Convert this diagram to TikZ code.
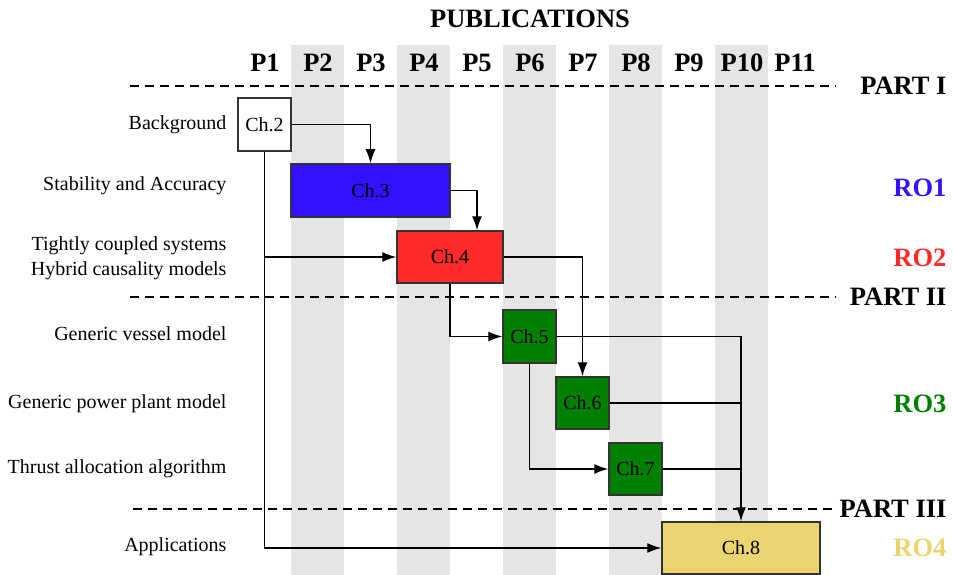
\documentclass[tikz,border=0pt]{standalone}
\usepackage{fontspec}
\setmainfont{Liberation Serif}
\usetikzlibrary{arrows.meta, positioning}

\definecolor{roblue}{HTML}{3311FF}
\definecolor{rored}{HTML}{FF2A2A}
\definecolor{rogreen}{HTML}{008000}
\definecolor{royellow}{HTML}{E9D46F}
\definecolor{bandgray}{HTML}{E5E5E5}
\definecolor{edgegray}{HTML}{333333}

\tikzset{
  chbox/.style={draw=edgegray, line width=1.5pt, inner sep=0pt, font=\fontsize{20}{23}\selectfont},
  topic/.style={anchor=east, font=\fontsize{20}{23}\selectfont},
  head/.style={font=\fontsize{26.5}{29}\selectfont\bfseries},
  part/.style={anchor=east, font=\fontsize{26.5}{29}\selectfont\bfseries},
  sep/.style={line width=1.7pt, dash pattern=on 9pt off 6pt},
  link/.style={line width=1.3pt},
  flow/.style={line width=1.3pt, -{Latex[length=14pt, width=10pt]}}
}

\begin{document}
\begin{tikzpicture}[x=1pt, y=-1pt]
  \useasboundingbox (0,0) rectangle (953,575);

  % publication columns
  \foreach \xa in {291, 397, 503, 609, 715}
    \fill[bandgray] (\xa,45) rectangle ++(53,530);
  \node[head] (title) at (530,19) {PUBLICATIONS};
  \foreach \i in {1,...,11}
    \node[head] (p\i) at ({265+53*(\i-1)},63) {P\i};

  % part separators
  \draw[sep] (130,86) -- (836,86);
  \draw[sep] (130,297) -- (836,297);
  \draw[sep] (133,509) -- (836,509);
  \node[part] (part1) at (950,86) {PART I};
  \node[part] (part2) at (950,297) {PART II};
  \node[part] (part3) at (950,509) {PART III};

  % research objectives
  \node[part, text=roblue] (ro1) at (950,188) {RO1};
  \node[part, text=rored] (ro2) at (950,258) {RO2};
  \node[part, text=rogreen] (ro3) at (950,404) {RO3};
  \node[part, text=royellow] (ro4) at (950,548) {RO4};

  % topics
  \node[topic] (t2) at (230,125) {Background};
  \node[topic] (t3) at (230,186) {Stability and Accuracy};
  \node[topic] (t4a) at (230,246) {Tightly coupled systems};
  \node[topic] (t4b) at (230,271) {Hybrid causality models};
  \node[topic] (t5) at (230,334) {Generic vessel model};
  \node[topic] (t6) at (230,404) {Generic power plant model};
  \node[topic] (t7) at (230,469) {Thrust allocation algorithm};
  \node[topic] (t8) at (230,547) {Applications};

  % chapters
  \node[chbox, fill=white, minimum width=53pt, minimum height=53pt] (ch2) at (264.5,124.5) {Ch.2};
  \node[chbox, fill=roblue, minimum width=159pt, minimum height=53pt] (ch3) at (370.5,190.5) {Ch.3};
  \node[chbox, fill=rored, minimum width=106pt, minimum height=52pt] (ch4) at (450,257) {Ch.4};
  \node[chbox, fill=rogreen, minimum width=53pt, minimum height=53pt] (ch5) at (529.5,336.5) {Ch.5};
  \node[chbox, fill=rogreen, minimum width=53pt, minimum height=52pt] (ch6) at (582.5,403) {Ch.6};
  \node[chbox, fill=rogreen, minimum width=53pt, minimum height=52pt] (ch7) at (635.5,469) {Ch.7};
  \node[chbox, fill=royellow, minimum width=158pt, minimum height=52pt] (ch8) at (741,548) {Ch.8};

  % junction points
  \coordinate (j4) at (ch2.south |- ch4.west);
  \coordinate (j8) at (741,403);

  % dependencies
  \draw[flow] (ch2.east) -| (ch3.north);
  \draw[flow] (ch3.east) -| (ch4.north -| p5);
  \draw[flow] (ch2.south) |- (ch8.west);
  \draw[flow] (j4) -- (ch4.west);
  \draw[flow] (ch4.south) |- (ch5.west);
  \draw[flow] (ch4.east) -| (ch6.north);
  \draw[flow] (ch5.south) |- (ch7.west);
  \draw[flow] (ch5.east) -| (ch8.north);
  \draw[link] (ch6.east) -- (j8);
  \draw[link] (ch7.east) -| (j8);
\end{tikzpicture}
\end{document}
